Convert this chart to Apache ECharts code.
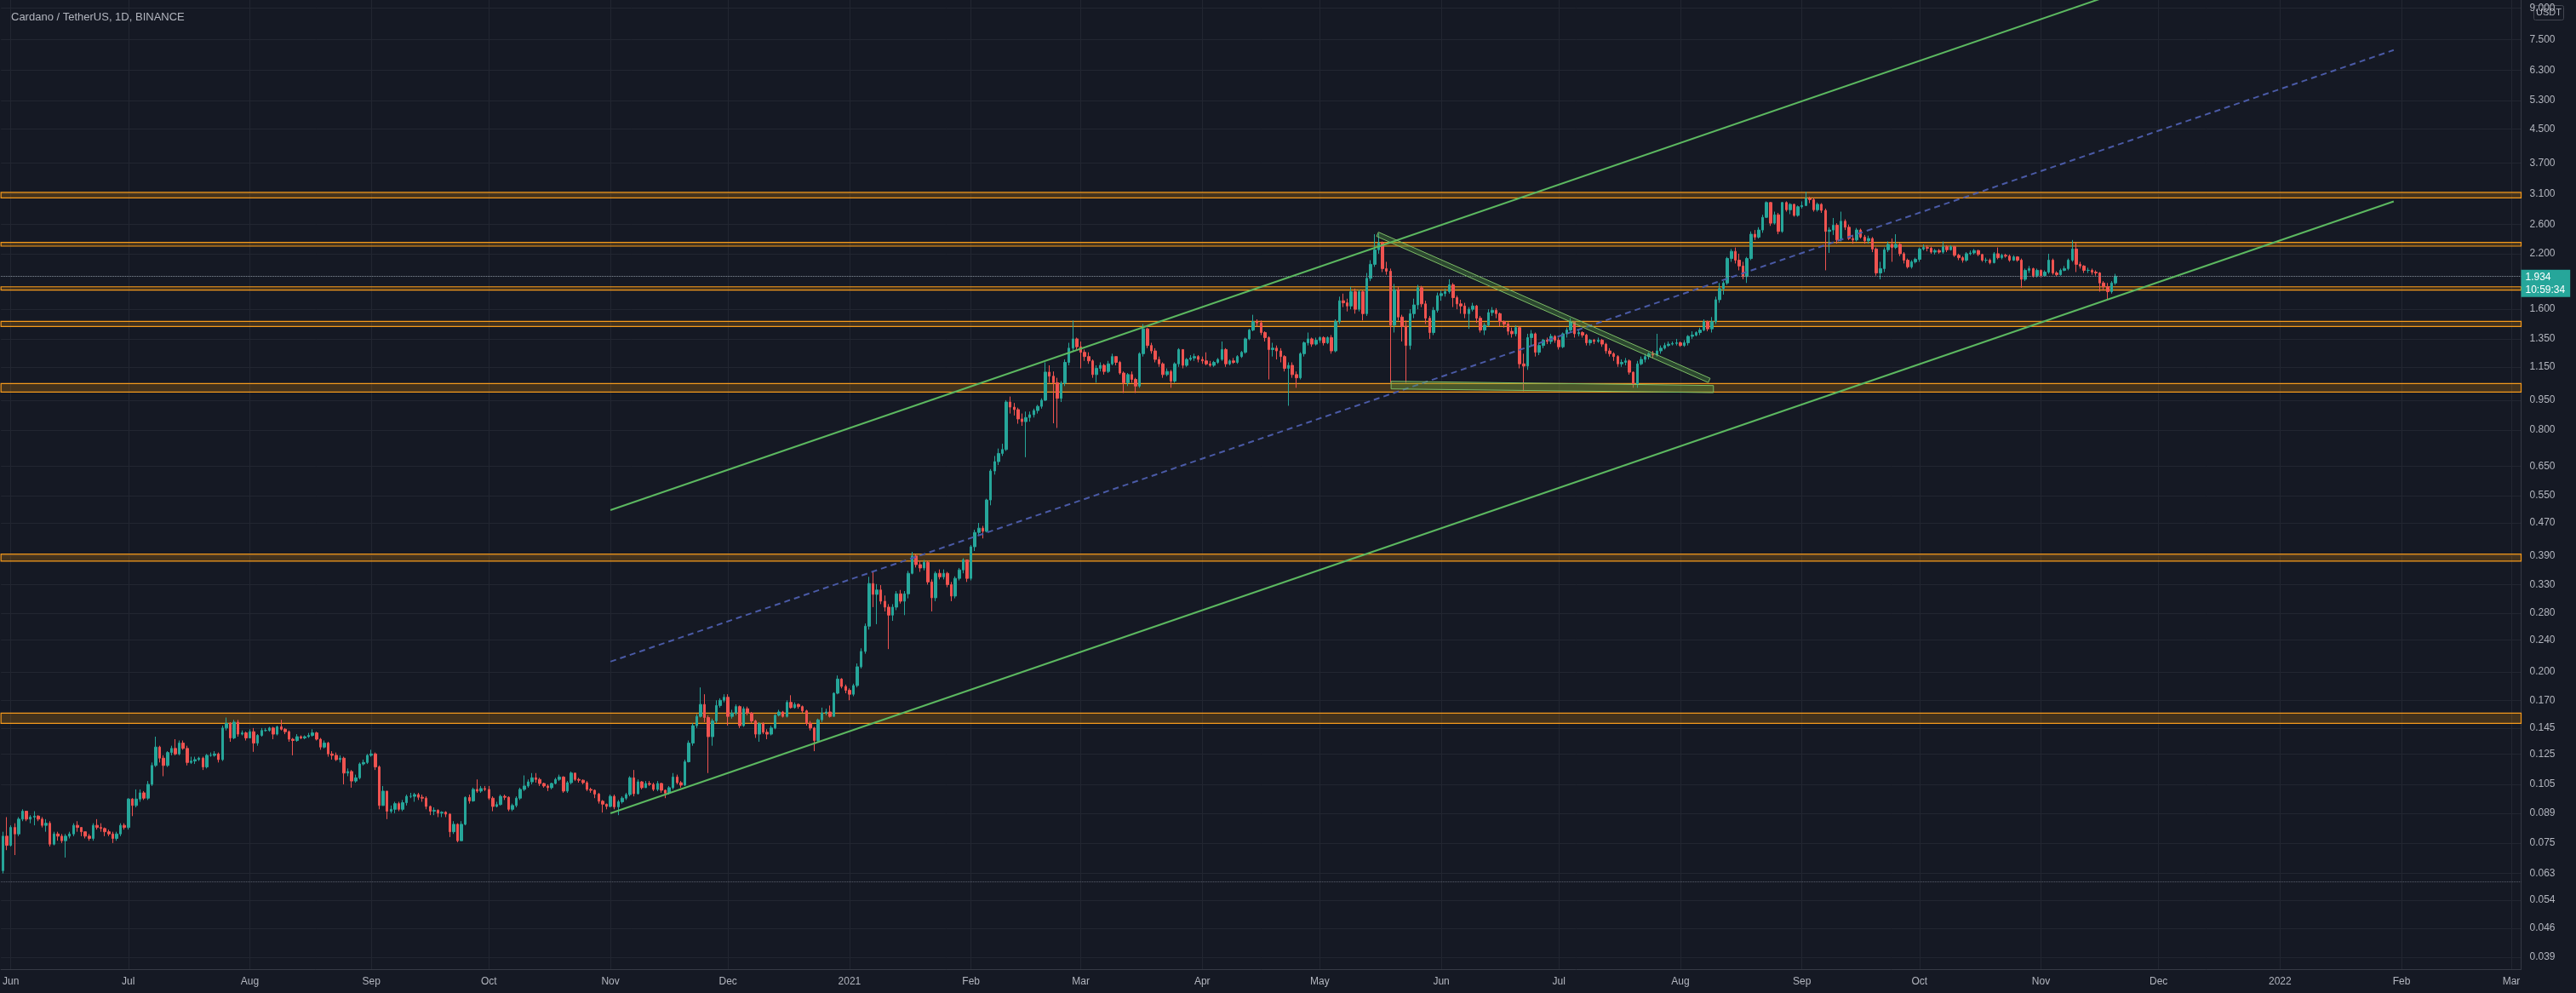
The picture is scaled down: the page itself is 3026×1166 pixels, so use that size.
<!DOCTYPE html>
<html><head><meta charset="utf-8">
<script src="https://cdn.jsdelivr.net/npm/echarts@6/dist/echarts.min.js"></script>
<style>html,body{margin:0;padding:0;background:#151924;}#c{width:3026px;height:1166px;}</style>
</head><body><div id="c"></div>
<script>
// ---- data (ADA/USDT daily) ----
const startDate = '2020-05-30';
const totalDays = 643;            // category slots: 2020-05-30 .. 2022-03-03
const firstOpen = 0.064;          // open of first candle; later opens = previous close
const closes2020 = [
.078,.074,.082,.079,.086,.090,.086,.087,.0875,.086,
.083,.084,.0745,.079,.078,.076,.078,.079,.083,.082,
.080,.078,.077,.083,.082,.0815,.080,.079,.077,.079,
.083,.082,.0965,.093,.0965,.100,.097,.105,.117,.130,
.122,.117,.126,.129,.125,.133,.129,.119,.120,.121,
.122,.116,.124,.124,.125,.121,.145,.149,.137,.150,
.140,.141,.137,.142,.133,.139,.143,.143,.145,.140,
.146,.144,.142,.136,.135,.138,.137,.138,.139,.141,
.136,.130,.133,.125,.124,.121,.122,.112,.113,.107,
.109,.118,.119,.124,.125,.116,.093,.101,.090,.091,
.094,.091,.0945,.098,.098,.099,.0975,.097,.0925,.090,
.0905,.089,.0895,.0885,.080,.0835,.076,.0835,.0974,.0955,
.102,.101,.1025,.102,.097,.0925,.0935,.098,.0975,.091,
.093,.097,.102,.104,.1065,.109,.108,.1055,.104,.103,
.1055,.108,.1095,.101,.106,.112,.108,.1075,.106,.102,
.1015,.0993,.0953,.0937,.0925,.098,.0923,.095,.097,.099,
.109,.0995,.1065,.103,.1055,.105,.102,.1055,.1015,.0998,
.103,.1095,.106,.1045,.1195,.133,.147,.155,.166,.154,
.138,.151,.165,.170,.173,.155,.158,.164,.147,.162,
.158,.151,.140,.1486,.1415,.140,.145,.156,.159,.155,
.168,.163,.166,.164,.160,.149,.145,.135,.152,.158,
.159,.155,.177,.192,.184,.180];
const highs2020 = [
.080,.087,.083,.084,.087,.091,.090,.088,.090,.088,
.087,.086,.085,.080,.080,.079,.079,.080,.084,.085,
.082,.080,.079,.084,.086,.084,.082,.081,.080,.080,
.084,.084,.097,.097,.102,.102,.101,.107,.119,.138,
.131,.124,.127,.131,.136,.135,.135,.131,.123,.123,
.123,.123,.125,.126,.127,.126,.147,.154,.150,.152,
.152,.143,.142,.144,.145,.140,.145,.145,.146,.146,
.147,.152,.145,.143,.137,.140,.139,.139,.141,.144,
.142,.137,.135,.134,.127,.126,.124,.123,.115,.114,
.111,.119,.121,.125,.128,.126,.117,.104,.101,.093,
.095,.095,.096,.099,.100,.100,.100,.099,.098,.093,
.092,.091,.090,.090,.089,.085,.084,.085,.098,.099,
.103,.108,.104,.104,.104,.098,.095,.099,.099,.098,
.094,.098,.103,.1105,.108,.112,.112,.109,.106,.105,
.106,.109,.111,.110,.107,.113,.112,.109,.108,.107,
.103,.102,.100,.096,.094,.099,.099,.096,.098,.100,
.110,.114,.108,.107,.107,.107,.106,.107,.106,.102,
.104,.112,.111,.107,.121,.135,.149,.157,.183,.176,
.156,.153,.170,.172,.176,.176,.161,.166,.165,.164,
.164,.159,.152,.150,.150,.144,.147,.157,.161,.160,
.170,.175,.168,.167,.165,.161,.151,.146,.153,.163,
.162,.165,.178,.196,.193,.186];
const lows2020 = [
.063,.072,.0735,.070,.078,.085,.085,.084,.083,.085,
.082,.080,.0735,.074,.076,.075,.069,.077,.078,.080,
.078,.077,.076,.076,.081,.080,.078,.078,.075,.076,
.078,.081,.081,.0875,.092,.095,.096,.096,.104,.116,
.119,.110,.116,.124,.124,.124,.128,.117,.118,.118,
.120,.114,.115,.123,.123,.119,.120,.143,.134,.136,
.138,.139,.135,.137,.1265,.131,.138,.142,.142,.136,
.139,.143,.140,.134,.124,.134,.136,.136,.137,.138,
.135,.128,.129,.123,.121,.120,.119,.105,.110,.103,
.106,.108,.117,.118,.123,.114,.091,.093,.086,.089,
.089,.090,.090,.093,.097,.095,.096,.095,.091,.088,
.088,.087,.087,.087,.0776,.079,.0753,.076,.083,.094,
.095,.100,.100,.101,.096,.090,.092,.093,.096,.090,
.090,.092,.096,.101,.103,.105,.106,.104,.103,.101,
.102,.105,.107,.100,.100,.105,.107,.106,.105,.101,
.100,.097,.094,.0893,.091,.092,.091,.088,.094,.096,
.098,.098,.099,.102,.103,.104,.101,.101,.100,.097,
.099,.102,.105,.103,.104,.119,.131,.145,.154,.150,
.112,.131,.149,.163,.168,.147,.153,.156,.145,.146,
.156,.149,.137,.134,.140,.136,.139,.144,.155,.154,
.154,.162,.162,.162,.158,.147,.143,.127,.134,.150,
.156,.154,.155,.176,.182,.177];
const closes2021 = [
.176,.185,.206,.225,.260,.332,.312,.320,.300,.290,
.277,.290,.313,.300,.313,.352,.389,.370,.363,.375,
.335,.306,.352,.345,.352,.330,.309,.342,.359,.380,
.342,.410,.445,.456,.448,.536,.633,.668,.700,.716,
.940,.913,.900,.853,.840,.860,.874,.895,.917,.950,
1.116,1.09,1.05,.96,1.047,1.18,1.28,1.35,1.29,1.25,
1.22,1.19,1.10,1.14,1.16,1.12,1.17,1.22,1.18,1.11,
1.05,1.10,1.07,1.03,1.24,1.43,1.30,1.26,1.20,1.17,
1.10,1.12,1.06,1.17,1.27,1.16,1.20,1.21,1.22,1.20,
1.19,1.17,1.16,1.18,1.20,1.27,1.17,1.19,1.18,1.22,
1.25,1.35,1.42,1.49,1.48,1.40,1.36,1.27,1.28,1.26,
1.22,1.14,1.16,1.10,1.08,1.24,1.32,1.35,1.31,1.34,
1.36,1.32,1.36,1.26,1.49,1.68,1.66,1.63,1.77,1.60,
1.77,1.56,1.91,2.07,2.25,2.34,2.02,1.99,1.46,1.79,
1.53,1.45,1.30,1.56,1.64,1.81,1.65,1.52,1.40,1.59,
1.73,1.75,1.77,1.84,1.71,1.65,1.63,1.56,1.60,1.63,
1.52,1.42,1.46,1.57,1.59,1.56,1.49,1.47,1.41,1.39,
1.44,1.17,1.155,1.36,1.39,1.25,1.30,1.34,1.33,1.37,
1.34,1.29,1.39,1.42,1.49,1.39,1.40,1.38,1.32,1.34,
1.33,1.34,1.31,1.26,1.24,1.22,1.17,1.18,1.19,1.115,
1.04,1.17,1.20,1.22,1.24,1.23,1.26,1.28,1.30,1.31,
1.315,1.32,1.30,1.32,1.37,1.38,1.40,1.42,1.49,1.43,
1.49,1.69,1.80,1.86,2.14,2.23,2.12,2.05,1.93,2.14,
2.46,2.42,2.52,2.71,2.95,2.62,2.75,2.50,2.95,2.83,
2.92,2.74,2.88,2.90,3.02,3.00,2.83,2.92,2.82,2.50,
2.52,2.59,2.38,2.65,2.56,2.40,2.38,2.52,2.42,2.37,
2.40,2.26,1.97,2.02,2.25,2.32,2.28,2.32,2.20,2.12,
2.04,2.10,2.13,2.26,2.28,2.27,2.22,2.24,2.22,2.29,
2.25,2.29,2.18,2.15,2.12,2.20,2.21,2.24,2.19,2.12,
2.12,2.09,2.20,2.15,2.18,2.17,2.12,2.16,2.12,1.90,
2.00,2.02,1.94,2.00,1.94,1.98,2.12,1.97,1.95,2.00,
2.02,2.12,2.26,2.07,2.05,2.00,2.00,1.98,1.97,1.86,
1.82,1.77,1.86,1.934];
const highs2021 = [
.182,.187,.210,.229,.264,.345,.355,.331,.329,.310,
.295,.295,.318,.320,.318,.357,.398,.392,.377,.380,
.378,.340,.356,.360,.360,.355,.335,.346,.363,.384,
.381,.414,.452,.470,.462,.540,.640,.690,.720,.740,
.950,.970,.935,.910,.880,.890,.890,.905,.925,.960,
1.18,1.16,1.12,1.08,1.06,1.20,1.32,1.50,1.36,1.33,
1.27,1.25,1.20,1.16,1.18,1.17,1.19,1.24,1.22,1.19,
1.12,1.11,1.12,1.08,1.25,1.47,1.44,1.32,1.28,1.22,
1.18,1.14,1.13,1.18,1.28,1.27,1.21,1.23,1.24,1.23,
1.22,1.25,1.19,1.19,1.21,1.33,1.28,1.20,1.21,1.23,
1.26,1.36,1.43,1.55,1.51,1.50,1.41,1.37,1.32,1.30,
1.28,1.23,1.18,1.18,1.12,1.25,1.33,1.40,1.36,1.36,
1.37,1.37,1.37,1.38,1.51,1.72,1.75,1.70,1.82,1.80,
1.79,1.78,1.97,2.12,2.46,2.47,2.36,2.10,2.02,1.85,
1.82,1.55,1.50,1.60,1.70,1.84,1.83,1.68,1.54,1.62,
1.76,1.78,1.80,1.90,1.86,1.73,1.69,1.66,1.62,1.66,
1.64,1.54,1.48,1.60,1.62,1.61,1.57,1.50,1.49,1.44,
1.46,1.45,1.24,1.39,1.42,1.40,1.32,1.35,1.36,1.39,
1.38,1.36,1.40,1.44,1.52,1.49,1.42,1.41,1.39,1.35,
1.35,1.36,1.35,1.32,1.28,1.25,1.23,1.20,1.21,1.20,
1.12,1.19,1.22,1.24,1.25,1.26,1.39,1.30,1.32,1.33,
1.33,1.35,1.33,1.34,1.38,1.41,1.41,1.44,1.51,1.50,
1.53,1.72,1.86,1.88,2.16,2.26,2.28,2.20,2.10,2.16,
2.50,2.52,2.56,2.75,2.97,2.96,2.80,2.78,2.96,2.97,
2.94,2.93,2.90,2.97,3.14,3.05,3.03,2.95,2.94,2.85,
2.56,2.70,2.62,2.80,2.68,2.60,2.45,2.55,2.54,2.45,
2.44,2.42,2.28,2.10,2.28,2.36,2.40,2.46,2.34,2.22,
2.14,2.12,2.15,2.28,2.32,2.31,2.29,2.26,2.26,2.36,
2.31,2.31,2.30,2.20,2.17,2.22,2.24,2.26,2.25,2.20,
2.15,2.14,2.22,2.28,2.20,2.20,2.19,2.18,2.17,2.14,
2.02,2.05,2.03,2.02,2.01,2.00,2.20,2.14,1.99,2.02,
2.05,2.14,2.38,2.34,2.10,2.06,2.03,2.02,2.00,1.98,
1.88,1.86,1.88,1.96];
const lows2021 = [
.170,.174,.183,.204,.222,.255,.290,.263,.295,.283,
.228,.268,.285,.296,.277,.305,.350,.364,.355,.358,
.330,.283,.300,.340,.340,.325,.300,.305,.338,.352,
.335,.338,.400,.437,.430,.445,.520,.620,.655,.690,
.710,.880,.870,.830,.820,.685,.840,.860,.880,.905,
.945,1.05,.832,.81,.94,1.03,1.16,1.26,1.27,1.14,
1.19,1.17,1.08,1.05,1.12,1.10,1.11,1.16,1.16,1.10,
.99,1.03,1.05,.99,1.02,1.22,1.28,1.24,1.18,1.15,
1.08,1.09,1.02,1.05,1.15,1.14,1.15,1.19,1.19,1.18,
1.17,1.16,1.15,1.15,1.17,1.19,1.15,1.16,1.17,1.17,
1.21,1.24,1.34,1.41,1.45,1.38,1.33,1.07,1.22,1.20,
1.18,1.12,.92,1.08,1.02,1.07,1.22,1.30,1.29,1.30,
1.32,1.30,1.31,1.24,1.25,1.47,1.62,1.58,1.60,1.56,
1.58,1.50,1.54,1.88,2.04,2.20,1.98,1.95,1.05,1.40,
1.50,1.33,1.05,1.27,1.52,1.60,1.62,1.47,1.35,1.38,
1.57,1.68,1.72,1.75,1.62,1.60,1.56,1.52,1.43,1.58,
1.48,1.40,1.38,1.45,1.54,1.52,1.45,1.44,1.38,1.36,
1.37,1.14,1.00,1.13,1.30,1.22,1.23,1.28,1.31,1.31,
1.32,1.27,1.28,1.36,1.40,1.36,1.37,1.36,1.30,1.30,
1.31,1.32,1.29,1.24,1.22,1.19,1.15,1.15,1.16,1.10,
1.02,1.02,1.16,1.18,1.20,1.21,1.22,1.24,1.27,1.29,
1.30,1.30,1.29,1.29,1.30,1.35,1.37,1.38,1.41,1.41,
1.40,1.47,1.66,1.74,1.84,2.10,2.08,2.00,1.90,1.86,
2.12,2.38,2.40,2.48,2.70,2.58,2.60,2.46,2.48,2.80,
2.76,2.72,2.72,2.85,2.89,2.94,2.80,2.80,2.78,2.00,
2.21,2.45,2.33,2.36,2.52,2.38,2.33,2.36,2.40,2.33,
2.33,2.22,1.94,1.90,1.98,2.22,2.10,2.26,2.17,2.08,
2.02,2.02,2.08,2.10,2.24,2.23,2.20,2.19,2.20,2.20,
2.22,2.24,2.16,2.12,2.09,2.10,2.18,2.19,2.17,2.10,
2.09,2.07,2.08,2.13,2.13,2.15,2.10,2.11,2.10,1.81,
1.88,1.97,1.92,1.92,1.92,1.93,1.96,1.95,1.93,1.94,
1.99,2.00,2.10,1.98,2.02,1.97,1.97,1.95,1.94,1.77,
1.78,1.69,1.75,1.84];

const yTicks = [0.039,0.046,0.054,0.063,0.075,0.089,0.105,0.125,0.145,0.170,0.200,0.240,0.280,0.330,0.390,0.470,0.550,0.650,0.800,0.950,1.150,1.350,1.600,2.200,2.600,3.100,3.700,4.500,5.300,6.300,7.500,9.000];
const yMin = 0.03639, yMax = 9.422;
const monthNames = ['Jan','Feb','Mar','Apr','May','Jun','Jul','Aug','Sep','Oct','Nov','Dec'];

// horizontal support/resistance zones [low, high]
const zones = [[3.03,3.126],[2.298,2.347],[1.785,1.820],[1.449,1.493],[0.995,1.045],[0.3774,0.393],[0.149,0.158]];
// rising parallel channel: start/end dates and prices of lower, middle, upper lines
const channelDates = ['2020-11-01','2022-01-30'];
const channelLower = [0.0889, 2.969];
const channelMid = [0.2122, 7.07];
const channelUpper = [0.5058, 16.9];
// triangle drawn as two thin rotated rectangles (corner date-times, prices)
const triangleBands = [
  [['2021-05-15T11:30:00Z',2.431],['2021-05-15T23:00:00Z',2.490],['2021-08-08T14:00:00Z',1.077],['2021-08-08T02:30:00Z',1.051]],
  [['2021-05-19T04:30:00Z',1.0588],['2021-08-09T10:20:00Z',1.0333],['2021-08-09T10:20:00Z',0.9922],['2021-05-19T04:30:00Z',1.0133]]
];
const lastPrice = 1.934, lastPriceTimer = '10:59:34';
const refLevel = 0.0639;
const titleText = 'Cardano / TetherUS, 1D, BINANCE';

// ---- build ----
const DAY = 86400000;
const t0 = Date.parse(startDate);
const dates = [];
for (let i = 0; i < totalDays; i++) dates.push(new Date(t0 + i * DAY).toISOString().slice(0, 10));
const closes = closes2020.concat(closes2021);
const highs = highs2020.concat(highs2021);
const lows = lows2020.concat(lows2021);
const candles = closes.map((c, i) => [i === 0 ? firstOpen : closes[i - 1], c, lows[i], highs[i]]);

const isMonthStart = (idx, v) => v.slice(8) === '01';
const monthLabel = v => { const m = +v.slice(5, 7); return m === 1 ? v.slice(0, 4) : monthNames[m - 1]; };
const FONT = 'Liberation Sans';
const txt = '#b2b5be';

const chart = echarts.init(document.getElementById('c'), null, {renderer: 'canvas'});
const chLine = (vals, style) => ({
  type: 'line', xAxisIndex: 1, yAxisIndex: 0, silent: true, symbol: 'none', clip: true, z: 6,
  data: [[Date.parse(channelDates[0]), vals[0]], [Date.parse(channelDates[1]), vals[1]]],
  lineStyle: style
});
chart.setOption({
  animation: false,
  backgroundColor: '#151924',
  textStyle: {fontFamily: FONT},
  title: {text: titleText, left: 8, top: 9, textStyle: {color: txt, fontSize: 13, fontWeight: 'normal', fontFamily: FONT}},
  grid: {left: -2, top: 0, width: 2963.5, height: 1138, containLabel: false},
  xAxis: [{
    type: 'category', data: dates, boundaryGap: true,
    axisLine: {show: true, lineStyle: {color: '#363a45'}},
    axisTick: {show: false, interval: isMonthStart, alignWithLabel: true},
    axisLabel: {interval: isMonthStart, formatter: monthLabel, color: txt, fontSize: 12, margin: 9, fontFamily: FONT},
    splitLine: {show: true, interval: isMonthStart, alignWithLabel: true, lineStyle: {color: '#222631', width: 1}}
  }, {
    type: 'time', show: false, min: t0 - DAY / 2, max: t0 + (totalDays - 0.5) * DAY
  }],
  yAxis: {
    type: 'log', logBase: 10, position: 'right', min: yMin, max: yMax,
    axisLine: {show: true, lineStyle: {color: '#363a45'}},
    axisTick: {show: false, customValues: yTicks},
    axisLabel: {customValues: yTicks, formatter: v => (+v).toFixed(3), color: txt, fontSize: 12, margin: 10, fontFamily: FONT},
    splitLine: {show: true, lineStyle: {color: '#222631', width: 1}}
  },
  series: [
    {
      type: 'candlestick', large: false, barWidth: 3, z: 3,
      data: candles,
      itemStyle: {color: '#26a69a', color0: '#ef5350', borderColor: '#26a69a', borderColor0: '#ef5350', borderWidth: 1},
      markArea: {
        silent: true,
        itemStyle: {color: 'rgba(255,152,0,0.2)', borderColor: '#f59a1c', borderWidth: 1.2},
        data: zones.map(z => [{yAxis: z[0]}, {yAxis: z[1]}])
      },
      markLine: {
        silent: true, symbol: ['none', 'none'],
        data: [
          {yAxis: lastPrice, lineStyle: {color: '#8c96a0', type: 'dotted', width: 1},
           label: {show: true, position: 'end', distance: 0, offset: [0, 8], formatter: lastPrice.toFixed(3) + '\n' + lastPriceTimer,
                   backgroundColor: '#26a69a', color: '#ffffff', fontSize: 12, lineHeight: 15, padding: [1, 6, 1, 5], fontFamily: FONT}},
          {yAxis: refLevel, lineStyle: {color: '#5d6170', type: 'dotted', width: 1}, label: {show: false}}
        ]
      }
    },
    chLine(channelLower, {color: '#5cb860', width: 2}),
    chLine(channelUpper, {color: '#5cb860', width: 2}),
    chLine(channelMid, {color: '#4a5aa6', width: 2, type: [7, 5]}),
    {
      type: 'custom', xAxisIndex: 1, yAxisIndex: 0, silent: true, z: 7,
      data: triangleBands.map(b => [Date.parse(b[0][0]), b[0][1]]),
      renderItem: (params, api) => {
        const band = triangleBands[params.dataIndex];
        return {
          type: 'polygon',
          shape: {points: band.map(p => api.coord([Date.parse(p[0]), p[1]]))},
          style: {fill: 'rgba(90,170,70,0.32)', stroke: '#7dbd66', lineWidth: 1}
        };
      }
    }
  ],
  graphic: [{
    type: 'group', right: 14, top: 6, z: 100,
    children: [
      {type: 'rect', shape: {x: 0, y: 0, width: 35, height: 17, r: 2}, style: {fill: '#151924', stroke: '#434651', lineWidth: 1}},
      {type: 'text', style: {x: 17.5, y: 8.5, text: 'USDT', fill: txt, font: '11px ' + FONT, textAlign: 'center', textVerticalAlign: 'middle'}}
    ]
  }]
});
</script></body></html>
